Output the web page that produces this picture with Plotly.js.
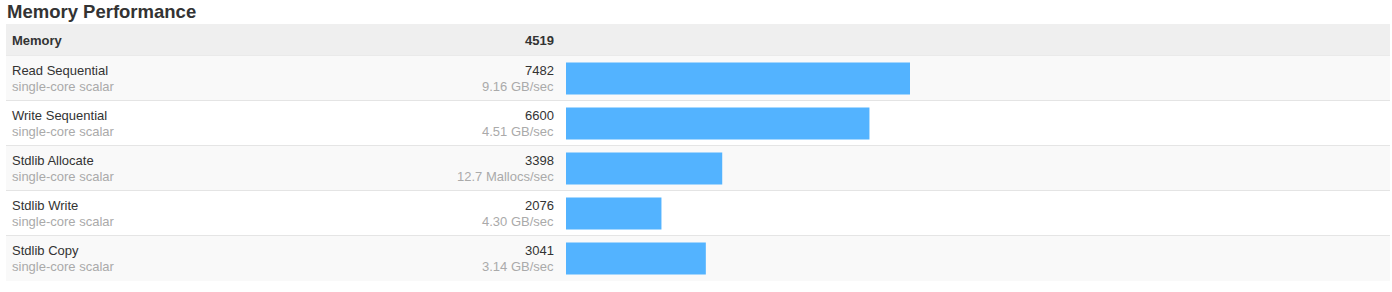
<!DOCTYPE html>
<html>
<head>
<meta charset="utf-8">
<script src="https://cdn.plot.ly/plotly-3.0.1.min.js"></script>
<style>
html,body{margin:0;padding:0;background:#fff;}
#chart{width:1392px;height:292px;}
</style>
</head>
<body>
<div id="chart"></div>
<script>
// ---- data ----
var chartTitle = "Memory Performance";
var sectionName = "Memory";
var sectionScore = 4519;
var categories = ["Read Sequential", "Write Sequential", "Stdlib Allocate", "Stdlib Write", "Stdlib Copy"];
var subLabels = ["single-core scalar", "single-core scalar", "single-core scalar", "single-core scalar", "single-core scalar"];
var scores = [7482, 6600, 3398, 2076, 3041];
var units = ["9.16 GB/sec", "4.51 GB/sec", "12.7 Mallocs/sec", "4.30 GB/sec", "3.14 GB/sec"];

// ---- layout helpers ----
var W = 1392, H = 292;
function px(x){ return x / W; }
function py(y){ return 1 - y / H; }
var FONT = "Liberation Sans, Arial, Helvetica, sans-serif";

var shapes = [];
// header background
shapes.push({type:"rect", xref:"paper", yref:"paper", x0:px(6), x1:px(1390), y0:py(56), y1:py(24),
  fillcolor:"#efefef", line:{width:0}, layer:"below"});
shapes.push({type:"line", xref:"paper", yref:"paper", x0:px(6), x1:px(1390), y0:py(56.5), y1:py(56.5),
  line:{color:"#dcdcdc", width:1.5}, layer:"below"});
categories.forEach(function(c, i){
  shapes.push({type:"rect", xref:"paper", yref:"y", x0:px(6), x1:px(1390), y0:i-0.5, y1:i+0.5,
    fillcolor: (i % 2 === 0) ? "#f9f9f9" : "#ffffff", line:{width:0}, layer:"below"});
  if (i < categories.length - 1) {
    shapes.push({type:"line", xref:"paper", yref:"y", x0:px(6), x1:px(1390), y0:i+0.5, y1:i+0.5,
      line:{color:"#dcdcdc", width:1.5}, layer:"below"});
  }
});

var annotations = [];
annotations.push({xref:"paper", yref:"paper", x:px(5), y:py(11), xanchor:"left", yanchor:"middle",
  text:"<b>"+chartTitle+"</b>", showarrow:false, font:{family:FONT, size:18.5, color:"#333333"}});
annotations.push({xref:"paper", yref:"paper", x:px(10), y:py(40.5), xanchor:"left", yanchor:"middle",
  text:"<b>"+sectionName+"</b>", showarrow:false, font:{family:FONT, size:13, color:"#333333"}});
annotations.push({xref:"paper", yref:"paper", x:px(556), y:py(40.5), xanchor:"right", yanchor:"middle",
  text:"<b>"+sectionScore+"</b>", showarrow:false, font:{family:FONT, size:13, color:"#333333"}});
categories.forEach(function(c, i){
  annotations.push({xref:"paper", yref:"y", x:px(10), y:i, yshift:8, xanchor:"left", yanchor:"middle",
    text:c, showarrow:false, font:{family:FONT, size:13, color:"#333333"}});
  annotations.push({xref:"paper", yref:"y", x:px(10), y:i, yshift:-8, xanchor:"left", yanchor:"middle",
    text:subLabels[i], showarrow:false, font:{family:FONT, size:13, color:"#aaaaaa"}});
  annotations.push({xref:"paper", yref:"y", x:px(556), y:i, yshift:8, xanchor:"right", yanchor:"middle",
    text:String(scores[i]), showarrow:false, font:{family:FONT, size:13, color:"#333333"}});
  annotations.push({xref:"paper", yref:"y", x:px(556), y:i, yshift:-8, xanchor:"right", yanchor:"middle",
    text:units[i], showarrow:false, font:{family:FONT, size:13, color:"#aaaaaa"}});
});

var trace = {
  type:"bar", orientation:"h",
  x: scores,
  y: categories.map(function(c, i){ return i; }),
  width: 32/45,
  marker:{color:"#53b3ff", line:{width:0}},
  hoverinfo:"none"
};

var layout = {
  width:W, height:H,
  margin:{l:0, r:0, t:0, b:0},
  paper_bgcolor:"#ffffff", plot_bgcolor:"rgba(0,0,0,0)",
  showlegend:false,
  xaxis:{domain:[px(566), px(910)], range:[0, 7482], showgrid:false, zeroline:false,
    showticklabels:false, ticks:"", showline:false, fixedrange:true},
  yaxis:{domain:[py(281), py(56)], range:[4.5, -0.5], showgrid:false, zeroline:false,
    showticklabels:false, ticks:"", showline:false, fixedrange:true},
  shapes:shapes,
  annotations:annotations
};

Plotly.newPlot("chart", [trace], layout, {displayModeBar:false, staticPlot:true});
</script>
</body>
</html>
